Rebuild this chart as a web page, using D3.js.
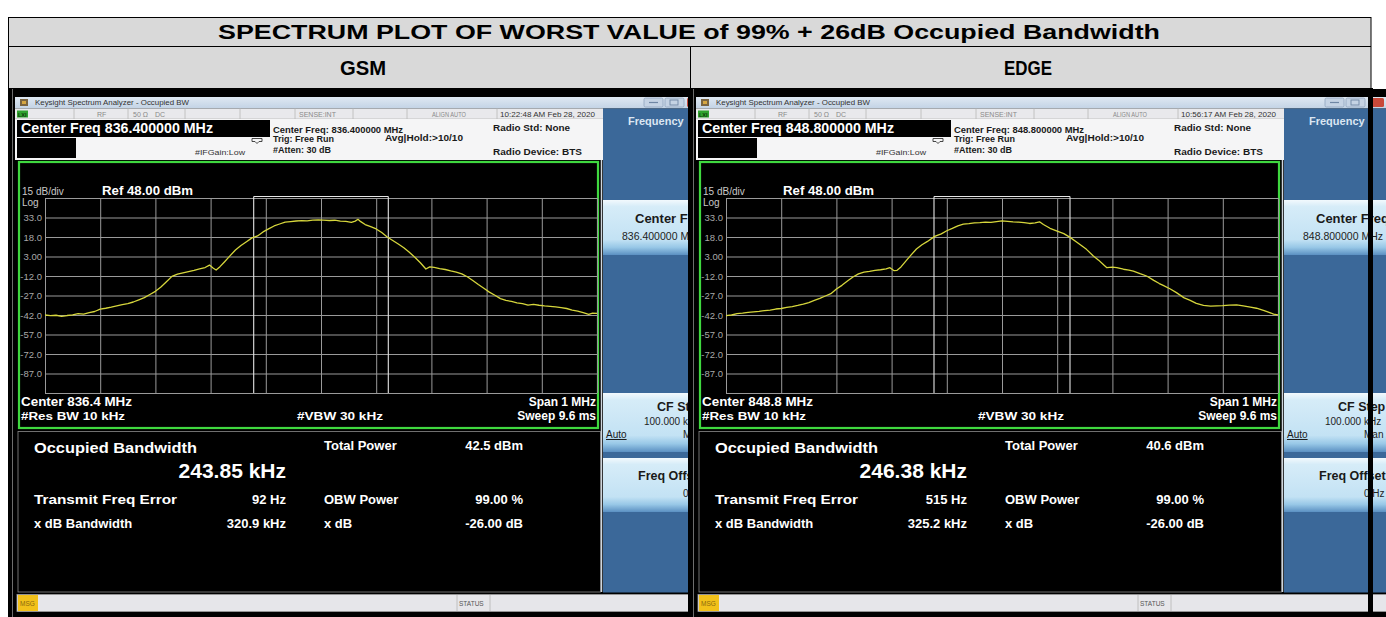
<!DOCTYPE html>
<html>
<head>
<meta charset="utf-8">
<script src="https://cdn.jsdelivr.net/npm/d3@7"></script>
<style>
  html, body { margin: 0; padding: 0; background: #fff; }
  svg { display: block; font-family: "Liberation Sans", Arial, sans-serif; }
</style>
</head>
<body>
<div id="chart"></div>
<script>
const chartTitle = "SPECTRUM PLOT OF WORST VALUE of 99% + 26dB Occupied Bandwidth";
const modes = ["GSM", "EDGE"];
const centerFreqs = ["836.400000", "848.800000"];
const centerShort = ["836.4", "848.8"];
const timeStamps = ["10:22:48 AM Feb 28, 2020", "10:56:17 AM Feb 28, 2020"];
const obwValues = [243.85, 246.38];            // kHz
const totalPowers = ["42.5 dBm", "40.6 dBm"];
const freqErrors = ["92 Hz", "515 Hz"];
const xdbBandwidths = ["320.9 kHz", "325.2 kHz"];
const obwPowers = ["99.00 %", "99.00 %"];
const xdbValues = ["-26.00 dB", "-26.00 dB"];

// y axis: Ref 48 dBm, 15 dB/div, 10 divisions
const yTicks = [48, 33, 18, 3, -12, -27, -42, -57, -72, -87, -102];
const yTickLabels = ["", "33.0", "18.0", "3.00", "-12.0", "-27.0", "-42.0", "-57.0", "-72.0", "-87.0", ""];
// x axis: offset from center in kHz, span 1 MHz
const xTicks = [-500, -400, -300, -200, -100, 0, 100, 200, 300, 400, 500];

const gsmFreq = [-500, -490, -480, -470, -460, -450, -440, -430, -420, -410, -400, -390, -380, -370, -360, -350,
  -340, -330, -320, -310, -300, -290, -280, -270, -260, -250, -240, -230, -220, -210, -202, -195, -190, -183,
  -175, -165, -155, -145, -135, -125, -115, -105, -95, -85, -75, -65, -55, -45, -35, -25, -15, -5, 5, 15, 25,
  35, 45, 55, 62, 67, 72, 80, 90, 100, 110, 120, 130, 140, 150, 160, 170, 180, 190, 197, 205, 215, 225, 235,
  245, 255, 265, 275, 285, 295, 305, 315, 325, 335, 345, 355, 365, 375, 385, 395, 405, 415, 425, 435, 445,
  455, 465, 475, 485, 492, 500];
const gsmLevel = [-42.0, -42.5, -42.2, -43.0, -42.4, -41.9, -41.0, -41.3, -40.2, -39.3, -37.5, -36.8, -36.0, -35.0,
  -34.0, -33.2, -32.0, -30.3, -28.6, -26.2, -23.8, -20.5, -16.4, -12.3, -10.6, -9.6, -8.6, -7.6, -6.5, -5.5, -3.6,
  -6.0, -7.4, -4.8, -1.2, 3.5, 8.0, 11.4, 14.4, 17.3, 18.8, 21.9, 24.2, 26.5, 28.0, 29.5, 29.9, 30.3, 30.6, 30.4,
  31.0, 31.2, 31.0, 30.7, 30.9, 30.2, 30.0, 29.3, 30.2, 31.6, 29.8, 27.6, 26.0, 24.2, 21.4, 18.0, 15.3, 12.6, 9.7,
  6.2, 2.4, -1.8, -6.6, -5.0, -5.4, -6.3, -7.0, -8.1, -9.0, -10.4, -12.6, -15.5, -18.6, -21.4, -24.4, -26.8, -29.4,
  -30.8, -31.6, -32.6, -33.2, -34.4, -33.8, -34.5, -35.0, -35.3, -35.8, -36.3, -37.0, -38.2, -39.0, -40.2, -41.5,
  -40.5, -40.8];

const edgeFreq = [-500, -490, -480, -470, -460, -450, -440, -430, -420, -410, -400, -390, -380, -370, -360, -350,
  -340, -330, -320, -310, -300, -290, -280, -270, -260, -250, -240, -230, -220, -210, -203, -196, -190, -183,
  -175, -165, -155, -145, -135, -122, -110, -100, -90, -80, -70, -60, -50, -40, -30, -20, -10, 0, 10, 20, 30,
  40, 50, 60, 68, 75, 87, 100, 112, 124, 135, 145, 153, 165, 175, 185, 190, 200, 208, 220, 230, 238, 250, 262,
  275, 285, 292, 305, 316, 330, 340, 352, 365, 378, 389, 400, 412, 425, 437, 450, 461, 475, 485, 492, 500];
const edgeLevel = [-42.5, -42.0, -41.0, -40.6, -40.0, -39.6, -39.2, -38.6, -38.2, -37.4, -37.0, -36.2, -35.5, -34.6,
  -33.6, -32.4, -30.8, -29.2, -27.4, -25.6, -22.0, -19.2, -15.8, -12.8, -10.4, -9.0, -8.4, -7.6, -7.2, -6.6, -5.6,
  -7.8, -7.6, -5.0, -1.0, 4.0, 8.8, 12.0, 14.6, 18.5, 20.4, 22.8, 24.6, 26.6, 27.9, 28.3, 28.8, 29.0, 29.4, 29.2,
  29.8, 30.4, 30.0, 29.6, 29.4, 29.0, 28.4, 28.8, 29.7, 27.6, 24.7, 22.5, 20.6, 17.5, 14.2, 11.0, 8.5, 3.6, 0.2,
  -3.8, -5.6, -5.2, -5.6, -6.8, -7.4, -8.2, -10.2, -12.0, -15.4, -17.8, -19.2, -22.0, -24.8, -28.8, -30.6, -33.0,
  -34.6, -35.2, -35.0, -34.8, -34.4, -34.2, -35.0, -36.0, -36.8, -38.6, -40.1, -41.4, -41.9];

const traces = [
  gsmFreq.map((f, i) => ({ f: f, v: gsmLevel[i] })),
  edgeFreq.map((f, i) => ({ f: f, v: edgeLevel[i] }))
];

// ---- drawing ----
const W = 1386, H = 617;
const svg = d3.select("#chart").append("svg").attr("width", W).attr("height", H);
const defs = svg.append("defs");

const tb = defs.append("linearGradient").attr("id", "titleBar").attr("x1", 0).attr("y1", 0).attr("x2", 0).attr("y2", 1);
tb.append("stop").attr("offset", "0%").attr("stop-color", "#dfe8f2");
tb.append("stop").attr("offset", "100%").attr("stop-color", "#c3d3e5");

const kg = defs.append("linearGradient").attr("id", "keyGrad").attr("x1", 0).attr("y1", 0).attr("x2", 0).attr("y2", 1);
kg.append("stop").attr("offset", "0%").attr("stop-color", "#f2f9fd");
kg.append("stop").attr("offset", "12%").attr("stop-color", "#d6ecf8");
kg.append("stop").attr("offset", "72%").attr("stop-color", "#c3e2f4");
kg.append("stop").attr("offset", "86%").attr("stop-color", "#98c8e7");
kg.append("stop").attr("offset", "100%").attr("stop-color", "#5b90c2");

defs.append("clipPath").attr("id", "clip0").append("rect").attr("x", 9).attr("y", 89).attr("width", 679).attr("height", 528);
defs.append("clipPath").attr("id", "clip1").append("rect").attr("x", 12).attr("y", 89).attr("width", 720).attr("height", 528);

// header table rows
svg.append("rect").attr("x", 8).attr("y", 17).attr("width", 1363).attr("height", 72).attr("fill", "#d9d9d9");
svg.append("rect").attr("x", 8).attr("y", 89).attr("width", 1363).attr("height", 528).attr("fill", "#000");

svg.append("text").attr("x", 218).attr("y", 39).attr("font-size", 20).attr("font-weight", "bold")
  .attr("textLength", 942).attr("lengthAdjust", "spacingAndGlyphs").attr("fill", "#000").text(chartTitle);

const modeX = [340, 1004], modeW = [46, 48];
modes.forEach(function (m, i) {
  svg.append("text").attr("x", modeX[i]).attr("y", 75).attr("font-size", 20).attr("font-weight", "bold")
    .attr("textLength", modeW[i]).attr("lengthAdjust", "spacingAndGlyphs").text(m);
});

function line(g, x1, y1, x2, y2, c, w) {
  return g.append("line").attr("x1", x1).attr("y1", y1).attr("x2", x2).attr("y2", y2)
    .attr("stroke", c).attr("stroke-width", w || 1);
}
function txt(g, x, y, s, size, fill, opts) {
  opts = opts || {};
  const t = g.append("text").attr("x", x).attr("y", y).attr("font-size", size).attr("fill", fill)
    .attr("font-weight", opts.bold ? "bold" : "normal").text(s);
  if (opts.anchor) t.attr("text-anchor", opts.anchor);
  if (opts.len) t.attr("textLength", opts.len).attr("lengthAdjust", "spacingAndGlyphs");
  return t;
}

// x / y scales for the trace grid (local to each screen)
const x = d3.scaleLinear().domain([-500, 500]).range([45, 597]);
const y = d3.scaleLinear().domain([-102, 48]).range([393, 198]);

function drawPanel(i) {
  const dx = i * 681;
  const g = svg.append("g").attr("transform", "translate(" + dx + ",0)").attr("clip-path", "url(#clip" + i + ")");

  // window frame
  g.append("rect").attr("x", 9).attr("y", 89).attr("width", 720).attr("height", 528).attr("fill", "#000");
  line(g, 12.5, 89, 12.5, 617, "#6d6d6d", 1);

  // title bar
  g.append("rect").attr("x", 15).attr("y", 97).attr("width", 700).attr("height", 11.5).attr("fill", "url(#titleBar)");
  g.append("rect").attr("x", 20).attr("y", 99).attr("width", 8).attr("height", 7).attr("fill", "#7a6440");
  g.append("rect").attr("x", 22).attr("y", 101).attr("width", 4).attr("height", 3).attr("fill", "#d6a640");
  txt(g, 35, 105, "Keysight Spectrum Analyzer - Occupied BW", 7.5, "#333", { len: 154 });
  [644, 665].forEach(function (bx) {
    g.append("rect").attr("x", bx).attr("y", 98).attr("width", 19).attr("height", 9).attr("rx", 1.5)
      .attr("fill", "#c5d3e4").attr("stroke", "#8fa4be").attr("stroke-width", 0.8);
  });
  line(g, 649, 102.5, 658, 102.5, "#6f86a4", 1.2);
  g.append("rect").attr("x", 670).attr("y", 100).attr("width", 8).attr("height", 5).attr("fill", "none").attr("stroke", "#6f86a4").attr("stroke-width", 0.9);
  g.append("rect").attr("x", 687).attr("y", 98).attr("width", 16).attr("height", 9).attr("rx", 1.5).attr("fill", "#c9493a");

  // status row
  g.append("rect").attr("x", 15).attr("y", 108.5).attr("width", 588).attr("height", 10.5).attr("fill", "#e9e9ec");
  [74, 128, 185, 240, 295, 353, 407, 497].forEach(function (sx) { line(g, sx, 108.5, sx, 119, "#b8b8b8", 0.8); });
  line(g, 15, 119, 603, 119, "#b8b8b8", 0.8);
  g.append("rect").attr("x", 17).attr("y", 110.5).attr("width", 11).attr("height", 7).attr("fill", "#2fa22f");
  txt(g, 18, 116.5, "LXI", 5.5, "#0d3b0d", { bold: true });
  txt(g, 97, 117, "RF", 7, "#8a8a8a");
  txt(g, 133, 117, "50 \u03A9", 7, "#8a8a8a");
  txt(g, 155, 117, "DC", 7, "#8a8a8a");
  txt(g, 299, 117, "SENSE:INT", 7, "#8a8a8a");
  txt(g, 432, 117, "ALIGN AUTO", 7, "#8a8a8a", { len: 34 });
  txt(g, 500, 117, timeStamps[i], 7.5, "#333", { len: 95 });

  // settings header
  g.append("rect").attr("x", 15).attr("y", 119).attr("width", 588).attr("height", 41).attr("fill", "#f5f5f6");
  g.append("rect").attr("x", 17).attr("y", 120).attr("width", 253).attr("height", 17).attr("fill", "#000");
  g.append("rect").attr("x", 17).attr("y", 138).attr("width", 59).attr("height", 20).attr("fill", "#000");
  txt(g, 21, 133, "Center Freq " + centerFreqs[i] + " MHz", 14, "#fff", { bold: true, len: 192 });
  txt(g, 273, 132.5, "Center Freq: " + centerFreqs[i] + " MHz", 9, "#1a1a1a", { bold: true, len: 130 });
  txt(g, 273, 142, "Trig: Free Run", 9, "#1a1a1a", { bold: true });
  txt(g, 273, 153, "#Atten: 30 dB", 9, "#1a1a1a", { bold: true });
  txt(g, 385, 141, "Avg|Hold:>10/10", 9, "#1a1a1a", { bold: true, len: 78 });
  txt(g, 493, 130.5, "Radio Std: None", 9, "#1a1a1a", { bold: true, len: 77 });
  txt(g, 493, 155, "Radio Device: BTS", 9, "#1a1a1a", { bold: true, len: 89 });
  txt(g, 195, 155, "#IFGain:Low", 8, "#333", { len: 50 });
  g.append("path").attr("d", "M252,138.5 h10 v3 h-3 l-2,2 l-2,-2 h-3 z").attr("fill", "none").attr("stroke", "#333").attr("stroke-width", 0.9);

  // graph window
  g.append("rect").attr("x", 19).attr("y", 162).attr("width", 579).attr("height", 266)
    .attr("fill", "#000").attr("stroke", "#3fd83f").attr("stroke-width", 2.2);
  txt(g, 22, 195, "15 dB/div", 10, "#c8c8c8");
  txt(g, 102, 195, "Ref 48.00 dBm", 12.5, "#fff", { bold: true, len: 91 });
  txt(g, 22, 206, "Log", 10, "#c8c8c8");

  const grid = g.append("g");
  grid.append("g").attr("transform", "translate(0," + y(-102) + ")")
    .call(d3.axisBottom(x).tickValues(xTicks).tickSize(y(-102) - y(48)).tickFormat(""))
    .call(function (a) { a.select(".domain").remove(); })
    .selectAll(".tick line").attr("stroke", "#9a9a9a").attr("transform", "scale(1,-1)");
  grid.append("g").attr("transform", "translate(" + x(-500) + ",0)")
    .call(d3.axisLeft(y).tickValues(yTicks).tickSize(-(x(500) - x(-500))).tickPadding(3)
      .tickFormat(function (d, k) { return yTickLabels[k]; }))
    .call(function (a) { a.select(".domain").remove(); })
    .call(function (a) {
      a.selectAll(".tick line").attr("stroke", "#9a9a9a");
      a.selectAll(".tick text").attr("fill", "#a8a8a8").attr("font-size", 9.5)
        .attr("font-family", "\"Liberation Sans\", Arial, sans-serif");
    });

  // OBW markers
  const half = obwValues[i] / 2;
  [-half, half].forEach(function (f) { line(g, x(f), y(48) - 1.5, x(f), y(-102), "#e6e6e6", 1.1); });
  line(g, x(-half), y(48) - 1.5, x(half), y(48) - 1.5, "#e6e6e6", 1.2);

  // trace
  g.append("path").datum(traces[i])
    .attr("fill", "none").attr("stroke", "#d6d63c").attr("stroke-width", 1.3).attr("stroke-linejoin", "round")
    .attr("d", d3.line().x(function (d) { return x(d.f); }).y(function (d) { return y(d.v); }));

  txt(g, 21, 406, "Center  " + centerShort[i] + " MHz", 12, "#fff", { bold: true, len: 111 });
  txt(g, 21, 419.5, "#Res BW  10 kHz", 11.5, "#fff", { bold: true, len: 104 });
  txt(g, 297, 419.5, "#VBW  30 kHz", 11.5, "#fff", { bold: true, len: 86 });
  txt(g, 596, 406, "Span 1 MHz", 12, "#fff", { bold: true, anchor: "end" });
  txt(g, 596, 419.5, "Sweep  9.6 ms", 12, "#fff", { bold: true, anchor: "end" });

  // results
  g.append("rect").attr("x", 18).attr("y", 431.5).attr("width", 582.5).attr("height", 160.5)
    .attr("fill", "#000").attr("stroke", "#8a8a8a").attr("stroke-width", 0.8);
  txt(g, 34, 453, "Occupied Bandwidth", 15.5, "#fff", { bold: true, len: 163 });
  txt(g, 286, 478, d3.format(".2f")(obwValues[i]) + " kHz", 21, "#fff", { bold: true, anchor: "end" });
  txt(g, 34, 504, "Transmit Freq Error", 13, "#fff", { bold: true, len: 143 });
  txt(g, 286, 504, freqErrors[i], 13, "#fff", { bold: true, anchor: "end" });
  txt(g, 34, 528, "x dB Bandwidth", 13, "#fff", { bold: true });
  txt(g, 286, 528, xdbBandwidths[i], 13, "#fff", { bold: true, anchor: "end" });
  txt(g, 324, 450, "Total Power", 13, "#fff", { bold: true });
  txt(g, 523, 450, totalPowers[i], 13, "#fff", { bold: true, anchor: "end" });
  txt(g, 324, 504, "OBW Power", 13, "#fff", { bold: true });
  txt(g, 523, 504, obwPowers[i], 13, "#fff", { bold: true, anchor: "end" });
  txt(g, 324, 528, "x dB", 13, "#fff", { bold: true });
  txt(g, 523, 528, xdbValues[i], 13, "#fff", { bold: true, anchor: "end" });

  // softkey menu
  line(g, 601.5, 160, 601.5, 592, "#cfd6dd", 1.5);
  g.append("rect").attr("x", 603).attr("y", 108.5).attr("width", 120).attr("height", 484).attr("fill", "#3b6899");
  txt(g, 628, 125, "Frequency", 11, "#dbe6f2", { bold: true });
  [[200, 55], [393, 59], [458, 54]].forEach(function (b) {
    g.append("rect").attr("x", 603).attr("y", b[0]).attr("width", 120).attr("height", b[1]).attr("fill", "url(#keyGrad)");
  });
  txt(g, 635, 223, "Center Freq", 13, "#1a1a1a", { bold: true });
  txt(g, 622, 240, centerFreqs[i] + " MHz", 10.5, "#222");
  txt(g, 657, 411, "CF Step", 12.5, "#1a1a1a", { bold: true });
  txt(g, 644, 425, "100.000 kHz", 10, "#222");
  txt(g, 606, 438, "Auto", 10, "#1a1a1a").attr("text-decoration", "underline");
  txt(g, 683, 438, "Man", 10, "#222");
  txt(g, 638, 480, "Freq Offset", 12.5, "#1a1a1a", { bold: true });
  txt(g, 683, 497, "0 Hz", 10, "#222");

  // status bar
  g.append("rect").attr("x", 17).attr("y", 594.5).attr("width", 710).attr("height", 17).attr("fill", "#e6e6ea")
    .attr("stroke", "#9c9c9c").attr("stroke-width", 0.8);
  g.append("rect").attr("x", 18).attr("y", 595).attr("width", 20).attr("height", 16).attr("fill", "#f2c11a");
  txt(g, 20, 606, "MSG", 6.5, "#8a6a10");
  line(g, 457, 595, 457, 611, "#b5b5b5", 0.8);
  line(g, 490, 595, 490, 611, "#b5b5b5", 0.8);
  txt(g, 459, 606, "STATUS", 6.5, "#555");
}

drawPanel(0);
drawPanel(1);

// table borders on top
line(svg, 8, 17.5, 1371, 17.5, "#000", 1);
line(svg, 8, 46.5, 1371, 46.5, "#000", 1);
line(svg, 8, 88.5, 1371, 88.5, "#000", 1);
line(svg, 8.5, 17, 8.5, 617, "#000", 1);
line(svg, 690.5, 46, 690.5, 89, "#000", 1);
svg.append("rect").attr("x", 688).attr("y", 88).attr("width", 5).attr("height", 529).attr("fill", "#000");
line(svg, 1371, 17, 1371, 89, "#000", 1);
svg.append("rect").attr("x", 1368).attr("y", 88).attr("width", 5).attr("height", 529).attr("fill", "#000");
</script>
</body>
</html>
